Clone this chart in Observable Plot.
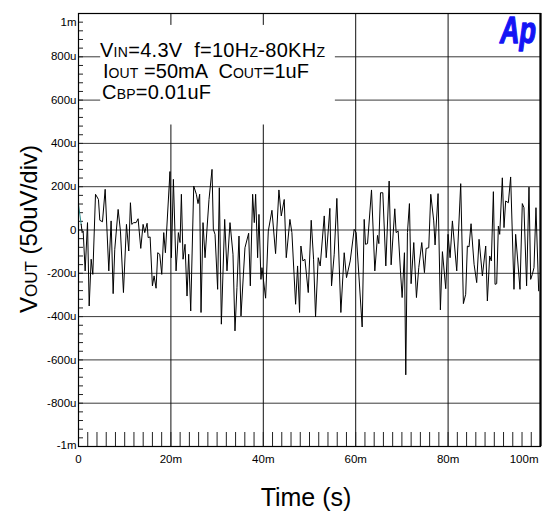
<!DOCTYPE html>
<html><head><meta charset="utf-8">
<script src="https://cdn.jsdelivr.net/npm/d3@7"></script>
<script src="https://cdn.jsdelivr.net/npm/@observablehq/plot@0.6"></script>
<style>
html,body{margin:0;padding:0;background:#fff;}
#chart svg{display:block;}
</style>
</head><body><div id="chart"></div>
<script>
// ---- data (time in ms, output noise in µV) ----
const startTimeMs = [0, 0.58];
const startVoutUv = [118, 26];
const timeMs = [0.58,0.79,1.01,1.44,1.95,2.31,2.74,3.10,3.68,4.32,4.61,5.19,5.77,6.56,7.06,7.50,7.85,8.58,9.08,9.73,10.38,10.88,11.24,11.53,11.96,12.47,12.90,13.48,13.98,14.34,14.85,15.07,15.50,16.00,16.36,16.79,17.15,17.58,18.02,18.45,18.81,19.80,20.11,20.54,21.12,21.62,21.98,22.27,22.63,23.06,23.49,23.85,24.29,24.94,25.51,25.87,26.23,26.52,26.95,27.39,28.25,28.90,29.19,29.55,30.12,30.48,30.92,31.64,32.14,32.79,33.44,33.87,34.30,34.74,35.17,36.03,36.83,37.19,37.69,38.05,38.34,38.77,39.06,39.49,39.71,40.50,41.08,41.87,42.66,43.38,43.89,44.53,44.97,45.76,46.19,46.99,47.42,47.85,48.14,48.57,49.01,49.73,50.37,50.88,51.31,51.89,52.32,53.19,53.62,54.41,54.77,55.35,55.92,56.79,57.51,58.01,58.81,59.67,60.10,61.40,61.84,62.12,62.56,63.42,64.14,64.72,65.01,65.37,65.87,66.52,67.24,67.67,68.46,68.75,69.19,69.69,70.05,70.55,70.84,71.20,71.63,71.99,72.57,73.15,73.65,74.30,74.88,75.24,75.81,76.25,76.89,77.18,77.83,78.33,78.77,79.49,79.99,80.43,80.93,81.87,82.73,83.31,83.81,84.17,84.53,84.97,85.62,86.19,86.70,87.42,88.14,88.50,89.00,89.36,89.80,90.16,90.52,90.88,91.17,91.74,92.10,92.46,93.04,93.54,94.26,94.62,95.56,96.06,96.42,96.99,97.51,97.87,98.23,98.59,99.02,99.60];
const voutUv = [26,-12,-5,-189,34,-351,-135,-205,165,141,45,38,188,-189,42,-294,-89,95,-5,-289,26,-97,126,26,34,34,52,-85,26,-12,31,-35,-32,-258,-212,-269,-105,-112,-205,-12,-105,270,-128,234,-189,-12,-58,165,-135,-66,-305,-112,-374,203,165,122,165,-381,34,-128,141,280,3,-20,-274,195,-435,49,-189,34,-112,-466,-266,-28,-397,-82,-15,-258,165,34,165,-128,72,-228,-174,-315,-5,91,-109,185,65,141,-128,49,-12,-343,-166,-381,-74,-143,-135,-289,45,-135,-401,-128,-166,65,-128,100,-258,-112,146,-381,-105,-220,-143,3,-12,-448,49,-66,-63,185,-189,-25,-63,172,172,-166,226,-161,98,-12,-5,-189,-312,-105,-669,-12,122,-248,-58,-312,-174,-58,-197,-85,-82,165,42,-69,168,-369,-100,-271,-20,-128,42,-189,214,-340,-297,-74,-78,29,-158,-243,-43,-212,-74,-328,-120,-143,177,-251,-248,18,-20,241,11,134,126,245,-274,-20,-274,122,103,-258,198,-228,-205,-174,103,-281];

const yTicks = [-1000,-800,-600,-400,-200,0,200,400,600,800,1000];
const yTickLabels = ["-1m","-800u","-600u","-400u","-200u","0","200u","400u","600u","800u","1m"];
const xTicks = [0,20,40,60,80,100];
const xTickLabels = ["0","20m","40m","60m","80m","100m"];

const annotationLines = [
  [["V",0],["IN",1],["=4.3V  f=10H",0],["Z",1],["-80KH",0],["Z",1]],
  [["I",0],["OUT",1],[" =50mA  C",0],["OUT",1],["=1uF",0]],
  [["C",0],["BP",1],["=0.01uF",0]]
];
const yLabelParts = [["V",0],["OUT",1],[" (50uV/div)",0]];
const xLabel = "Time (s)";
const logoText = "Ap";

// ---- layout ----
const W = 547, H = 516;
const mL = 78, mR = 7, mT = 13, mB = 70;
const innerW = W - mL - mR, innerH = H - mT - mB;

const main = timeMs.map((t, i) => ({t, v: voutUv[i]}));
const start = startTimeMs.map((t, i) => ({t, v: startVoutUv[i]}));
const yMinor = d3.range(-1000, 1001, 40);
const xMinor = d3.range(2, 100, 2);

const chart = Plot.plot({
  width: W, height: H,
  marginLeft: mL, marginRight: mR, marginTop: mT, marginBottom: mB,
  style: {fontFamily: "'Liberation Sans', Arial, sans-serif", fontSize: "11.5px", background: "#fff", color: "#000"},
  x: {domain: [0, 100]},
  y: {domain: [-1000, 1000]},
  marks: [
    Plot.ruleY(yTicks.slice(1, -1), {stroke: "#3a3a3a", strokeWidth: 1}),
    Plot.ruleX(xTicks.slice(1, -1), {stroke: "#111", strokeWidth: 1}),
    Plot.tickY(yMinor, {y: d => d, stroke: "#222", strokeWidth: 1, insetRight: innerW - 5}),
    Plot.tickX(xMinor, {x: d => d, stroke: "#222", strokeWidth: 1, insetTop: innerH - 14}),
    Plot.line(start, {x: "t", y: "v", stroke: "#2b8a8a", strokeWidth: 1}),
    Plot.line(main, {x: "t", y: "v", stroke: "#000", strokeWidth: 1}),
    Plot.frame({stroke: "#000", strokeWidth: 1.2}),
    Plot.ruleX([100], {stroke: "#000", strokeWidth: 2.2}),
    Plot.axisY(yTicks, {tickSize: 0, tickPadding: 2, label: null,
      tickFormat: d => yTickLabels[yTicks.indexOf(d)]}),
    Plot.axisX(xTicks, {tickSize: 0, tickPadding: 8, label: null,
      tickFormat: d => xTickLabels[xTicks.indexOf(d)]})
  ]
});
document.getElementById("chart").appendChild(chart);

const svg = d3.select(chart);
const xs = chart.scale("x"), ys = chart.scale("y");

// nudge end labels inside like the reference
svg.selectAll("text").each(function() {
  const s = d3.select(this), t = s.text();
  if (t === "1m") s.attr("dy", "0.78em");
  if (t === "-1m") s.attr("dy", "-0.12em");
  if (t === "100m") s.attr("text-anchor", "end").attr("dx", -2);
});

// white box behind annotation
const box = {t0: 4.8, t1: 55.6, v0: 945, v1: 485};
svg.append("rect")
  .attr("x", xs.apply(box.t0)).attr("y", ys.apply(box.v0))
  .attr("width", xs.apply(box.t1) - xs.apply(box.t0))
  .attr("height", ys.apply(box.v1) - ys.apply(box.v0))
  .attr("fill", "#fff");

const fontFam = "'Liberation Sans', Arial, sans-serif";
const annBaselines = [57, 78, 99];
const annX = [100, 103, 102];
const annLen = [225, 206, 109];
annotationLines.forEach((parts, i) => {
  const txt = svg.append("text")
    .attr("x", annX[i]).attr("y", annBaselines[i])
    .attr("text-anchor", "start")
    .attr("font-family", fontFam).attr("font-size", 20)
    .attr("fill", "#000").style("white-space", "pre")
    .attr("textLength", annLen[i]).attr("lengthAdjust", "spacing");
  parts.forEach(([s, small]) => {
    txt.append("tspan").attr("font-size", small ? 14 : 20).text(s);
  });
});

// y axis title
const yl = svg.append("text")
  .attr("transform", "translate(37,229) rotate(-90)")
  .attr("text-anchor", "middle")
  .attr("font-family", fontFam).attr("font-size", 24)
  .attr("fill", "#000").style("white-space", "pre");
yLabelParts.forEach(([s, small]) => yl.append("tspan").attr("font-size", small ? 17 : 24).text(s));

// x axis title
svg.append("text")
  .attr("x", 306).attr("y", 506)
  .attr("text-anchor", "middle")
  .attr("font-family", fontFam).attr("font-size", 25)
  .attr("fill", "#000").text(xLabel);

// logo
svg.append("text")
  .attr("x", 500).attr("y", 43)
  .attr("text-anchor", "start")
  .attr("font-family", fontFam).attr("font-size", 36)
  .attr("font-weight", "900").attr("font-style", "italic")
  .attr("fill", "#1414f5").attr("stroke", "#1414f5").attr("stroke-width", 1.4)
  .attr("stroke-linejoin", "round")
  .attr("textLength", 36).attr("lengthAdjust", "spacingAndGlyphs")
  .text(logoText);
</script>
</body></html>
